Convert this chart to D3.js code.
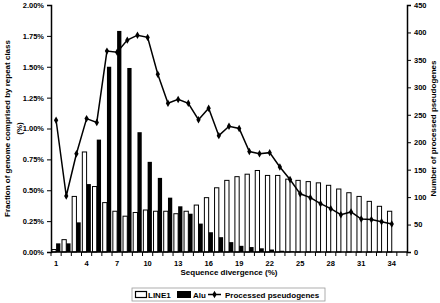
<!DOCTYPE html>
<html>
<head>
<meta charset="utf-8">
<script src="https://cdn.jsdelivr.net/npm/d3@7"></script>
<style>
  body { margin: 0; background: #fff; }
  text { font-family: "Liberation Sans", Arial, sans-serif; font-weight: bold; }
</style>
</head>
<body>
<div id="chart"></div>
<script>
// sequence divergence bins (%)
const categories = d3.range(1, 35)
// fraction of genome (%) per repeat class
const line1 = [0.02, 0.10, 0.45, 0.81, 0.53, 0.40, 0.33, 0.29, 0.32, 0.34,
  0.33, 0.33, 0.31, 0.33, 0.38, 0.44, 0.52, 0.58, 0.61, 0.63,
  0.66, 0.62, 0.62, 0.59, 0.58, 0.57, 0.56, 0.54, 0.51, 0.48,
  0.45, 0.41, 0.37, 0.33]
const alu = [0.07, 0.07, 0.24, 0.55, 0.91, 1.50, 1.79, 1.49, 0.97, 0.73,
  0.60, 0.44, 0.37, 0.31, 0.23, 0.16, 0.12, 0.08, 0.05, 0.04,
  0.03, 0.02, 0.01, 0.005, 0, 0, 0, 0, 0, 0, 0, 0, 0, 0]
// number of processed pseudogenes
const pseudo = [240, 102, 179, 243, 236, 366, 364, 386, 395, 391,
  324, 271, 278, 271, 241, 262, 212, 229, 225, 183,
  179, 181, 155, 132, 106, 99, 88, 79, 68, 73,
  60, 59, 55, 51]
const leftTicks = [0, 0.25, 0.5, 0.75, 1, 1.25, 1.5, 1.75, 2]
const rightTicks = [0, 50, 100, 150, 200, 250, 300, 350, 400, 450]
const labelEvery = 3

const width = 440, height = 303
const mLeft = 51, mRight = 407, mTop = 5, mBottom = 252
const bw = (mRight - mLeft) / (categories.length + 1)
const fs = 8

const svg = d3.select('#chart').append('svg')
  .attr('width', width).attr('height', height)

const x = d3.scaleBand()
  .domain(categories)
  .range([mLeft, mLeft + bw * categories.length])
const yL = d3.scaleLinear().domain([0, 2]).range([mBottom, mTop])
const yR = d3.scaleLinear().domain([0, 450]).range([mBottom, mTop])

const barW = bw * 0.42
const g = svg.append('g')

// LINE1 bars
g.selectAll('.l1').data(categories).enter().append('rect')
  .attr('x', d => x(d) + bw / 2 - barW)
  .attr('y', (d, i) => yL(line1[i]))
  .attr('width', barW)
  .attr('height', (d, i) => mBottom - yL(line1[i]))
  .attr('fill', '#fff').attr('stroke', '#000').attr('stroke-width', 1)

// Alu bars
g.selectAll('.alu').data(categories).enter().append('rect')
  .attr('x', d => x(d) + bw / 2)
  .attr('y', (d, i) => yL(alu[i]))
  .attr('width', barW)
  .attr('height', (d, i) => mBottom - yL(alu[i]))
  .attr('fill', '#000')

// x axis
const xAxis = svg.append('g').attr('transform', `translate(0,${mBottom})`)
xAxis.append('line').attr('x1', mLeft).attr('x2', mRight)
  .attr('stroke', '#000').attr('stroke-width', 1.5)
xAxis.selectAll('.tk').data(d3.range(categories.length + 2)).enter().append('line')
  .attr('x1', d => mLeft + d * bw).attr('x2', d => mLeft + d * bw)
  .attr('y1', 0).attr('y2', 4).attr('stroke', '#000').attr('stroke-width', 1)
xAxis.selectAll('.lb').data(categories.filter((d, i) => i % labelEvery === 0)).enter()
  .append('text')
  .attr('x', d => x(d) + bw / 2).attr('y', 14)
  .attr('text-anchor', 'middle').attr('font-size', 7.5)
  .text(d => d)

// left axis
const axL = svg.append('g').attr('transform', `translate(${mLeft},0)`)
  .call(d3.axisLeft(yL).tickValues(leftTicks).tickSize(4).tickPadding(3)
    .tickFormat(d => d3.format('.2f')(d) + '%'))
axL.select('.domain').attr('stroke-width', 1.5)
axL.selectAll('text').attr('font-size', 7.5).attr('font-family', null)

// right axis
const axR = svg.append('g').attr('transform', `translate(${mRight},0)`)
  .call(d3.axisRight(yR).tickValues(rightTicks).tickSize(4).tickPadding(3))
axR.select('.domain').attr('stroke-width', 1.5)
axR.selectAll('text').attr('font-size', 7.5).attr('font-family', null)

// processed pseudogenes line
const line = d3.line()
  .x((d, i) => x(categories[i]) + bw / 2)
  .y(d => yR(d))
svg.append('path').datum(pseudo)
  .attr('d', line).attr('fill', 'none')
  .attr('stroke', '#000').attr('stroke-width', 1.5)
svg.selectAll('.pt').data(pseudo).enter().append('path')
  .attr('d', d3.symbol(d3.symbolDiamond, 16))
  .attr('transform', (d, i) => `translate(${x(categories[i]) + bw / 2},${yR(d)})`)
  .attr('fill', '#000')

// axis titles
svg.append('text')
  .attr('transform', `translate(10,${(mTop + mBottom) / 2}) rotate(-90)`)
  .attr('text-anchor', 'middle').attr('font-size', fs)
  .text('Fraction of genome comprised by repeat class')
svg.append('text')
  .attr('transform', `translate(22,${(mTop + mBottom) / 2}) rotate(-90)`)
  .attr('text-anchor', 'middle').attr('font-size', fs)
  .text('(%)')
svg.append('text')
  .attr('transform', `translate(436,${(mTop + mBottom) / 2}) rotate(-90)`)
  .attr('text-anchor', 'middle').attr('font-size', fs)
  .text('Number of processed pseudogenes')
svg.append('text')
  .attr('x', (mLeft + mRight) / 2).attr('y', 275)
  .attr('text-anchor', 'middle').attr('font-size', fs)
  .text('Sequence divergence (%)')

// legend
const lg = svg.append('g')
lg.append('rect').attr('x', 132).attr('y', 288).attr('width', 193).attr('height', 13)
  .attr('fill', '#fff').attr('stroke', '#999').attr('stroke-width', 0.8)
lg.append('rect').attr('x', 135.5).attr('y', 291.5).attr('width', 11).attr('height', 6)
  .attr('fill', '#fff').attr('stroke', '#000').attr('stroke-width', 1.2)
lg.append('text').attr('x', 148).attr('y', 297.5).attr('font-size', fs).text('LINE1')
lg.append('rect').attr('x', 177).attr('y', 291).attr('width', 14).attr('height', 7)
  .attr('fill', '#000')
lg.append('text').attr('x', 193).attr('y', 297.5).attr('font-size', fs).text('Alu')
lg.append('line').attr('x1', 208).attr('x2', 221).attr('y1', 294.5).attr('y2', 294.5)
  .attr('stroke', '#000').attr('stroke-width', 1.5)
lg.append('path').attr('d', d3.symbol(d3.symbolDiamond, 16))
  .attr('transform', 'translate(214.5,294.5)')
lg.append('text').attr('x', 225).attr('y', 297.5).attr('font-size', fs)
  .text('Processed pseudogenes')
</script>
</body>
</html>
